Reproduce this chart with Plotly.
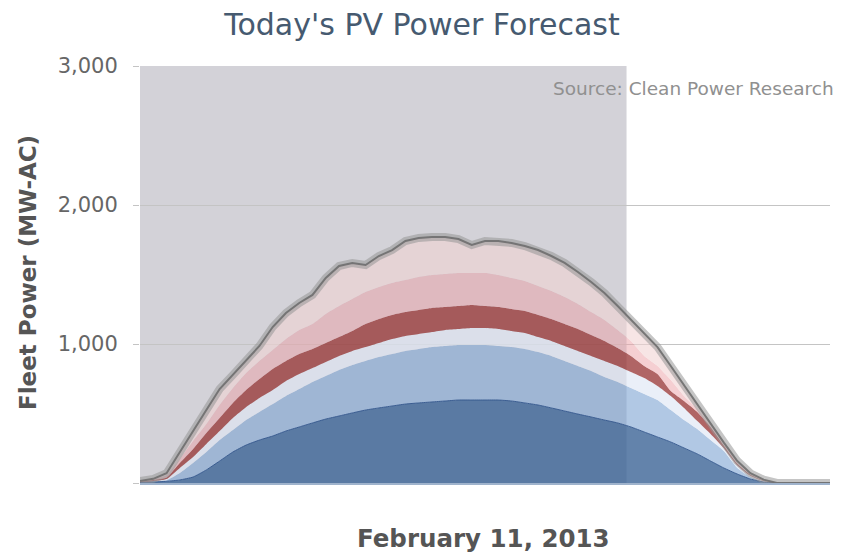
import plotly.graph_objects as go
import pandas as pd

# 15-minute time steps, 06:00 to 19:00
times = pd.date_range("2013-02-11 06:00", "2013-02-11 19:00", freq="15min")

# cumulative tops of each stacked band (MW-AC)
dark_blue = [5, 7, 12, 22, 43, 94, 158, 223, 273, 309,
             338, 374, 403, 432, 460, 482, 504, 525, 540, 554,
             568, 576, 583, 590, 597, 597, 597, 597, 590, 576,
             561, 540, 518, 496, 475, 453, 432, 403, 367, 331,
             295, 252, 209, 158, 108, 65, 29, 7, 0, 0,
             0, 0, 0]
medium_blue = [5, 14, 20, 72, 144, 223, 309, 381, 453, 511,
               568, 626, 676, 727, 770, 813, 849, 878, 906, 928,
               950, 964, 978, 986, 993, 993, 993, 986, 978, 964,
               942, 914, 878, 842, 806, 763, 727, 683, 640, 597,
               525, 453, 388, 309, 230, 110, 43, 12, 0, 0,
               0, 0, 0]
light_blue = [5, 14, 28, 108, 187, 281, 374, 468, 547, 612,
              669, 734, 784, 827, 871, 914, 950, 978, 1007, 1036,
              1058, 1072, 1086, 1101, 1108, 1115, 1115, 1108, 1094, 1079,
              1050, 1022, 986, 950, 914, 878, 842, 799, 755, 698,
              626, 540, 446, 353, 250, 128, 52, 14, 0, 0,
              0, 0, 0]
dark_red = [8, 22, 40, 144, 245, 360, 468, 576, 669, 748,
            820, 878, 928, 964, 1007, 1050, 1094, 1144, 1180, 1209,
            1230, 1245, 1259, 1266, 1273, 1281, 1273, 1266, 1252, 1237,
            1209, 1180, 1144, 1108, 1065, 1022, 971, 914, 842, 784,
            662, 590, 511, 403, 270, 140, 60, 18, 0, 0,
            0, 0, 0]
light_red = [10, 29, 55, 173, 302, 424, 561, 683, 791, 878,
             957, 1036, 1101, 1144, 1216, 1273, 1324, 1374, 1410, 1439,
             1460, 1482, 1496, 1504, 1511, 1511, 1511, 1496, 1475, 1453,
             1417, 1381, 1338, 1288, 1230, 1173, 1101, 1022, 914, 842,
             741, 626, 532, 410, 278, 150, 65, 22, 0, 0,
             0, 0, 0]
total = [14, 30, 70, 223, 381, 525, 676, 777, 878, 986,
         1122, 1223, 1295, 1353, 1475, 1561, 1583, 1568, 1633, 1676,
         1741, 1763, 1770, 1770, 1755, 1712, 1741, 1741, 1727, 1705,
         1676, 1633, 1583, 1518, 1446, 1367, 1273, 1173, 1079, 978,
         842, 705, 568, 424, 290, 160, 70, 24, 0, 0,
         0, 0, 0]

band_start = "2013-02-11 06:00"
band_end = "2013-02-11 15:10"

y_ticks = [0, 1000, 2000, 3000]
y_labels = ["", "1,000", "2,000", "3,000"]

FONT = "DejaVu Sans"

# page body adds an 8px offset; figure is sized so the plot lands where the reference has it
W, H = 842, 544

fig = go.Figure()

layers = [
    (dark_blue, "rgba(60,100,150,0.8)", "rgba(50,85,140,0.9)", 1),
    (medium_blue, "rgba(125,163,210,0.6)", "rgba(0,0,0,0)", 0),
    (light_blue, "rgba(222,230,244,0.65)", "rgba(0,0,0,0)", 0),
    (dark_red, "rgba(150,50,50,0.75)", "rgba(0,0,0,0)", 0),
    (light_red, "rgba(235,160,165,0.5)", "rgba(0,0,0,0)", 0),
    (total, "rgba(242,212,212,0.6)", "rgba(0,0,0,0)", 0),
]
for i, (vals, fc, lc, lw) in enumerate(layers):
    fig.add_trace(go.Scatter(
        x=times, y=vals, mode="lines",
        fill="tozeroy" if i == 0 else "tonexty",
        fillcolor=fc, line=dict(color=lc, width=lw, shape="spline", smoothing=0.5),
        showlegend=False, hoverinfo="skip",
    ))

# grey forecast band outline
fig.add_trace(go.Scatter(x=times, y=total, mode="lines",
                         line=dict(color="rgba(150,150,150,0.55)", width=8),
                         showlegend=False, hoverinfo="skip"))
fig.add_trace(go.Scatter(x=times, y=total, mode="lines",
                         line=dict(color="rgba(110,110,110,0.9)", width=2),
                         showlegend=False, hoverinfo="skip"))

fig.add_shape(type="rect", xref="x", yref="paper", x0=band_start, x1=band_end,
              y0=0, y1=1, fillcolor="rgb(211,210,216)", line_width=0, layer="below")

fig.update_layout(
    width=W, height=H,
    margin=dict(l=132, r=20, t=58, b=69),
    paper_bgcolor="white", plot_bgcolor="white",
    font=dict(family=FONT),
    title=dict(text="Today's PV Power Forecast", x=414 / W, xanchor="center",
               y=1 - 16 / H, yanchor="middle", xref="container", yref="container",
               font=dict(size=30, color="#465a70", family=FONT)),
    xaxis=dict(range=["2013-02-11 06:00", "2013-02-11 19:00"], showticklabels=False,
               showgrid=False, zeroline=False, showline=True, linecolor="#9fb3cc",
               linewidth=2, ticks=""),
    yaxis=dict(range=[0, 3000], tickvals=y_ticks, ticktext=y_labels,
               showgrid=True, gridcolor="#c4c4c4", gridwidth=1, zeroline=False,
               ticks="outside", ticklen=6, tickcolor="#c4c4c4",
               ticklabelstandoff=11,
               tickfont=dict(size=21, color="#666666", family=FONT)),
    annotations=[
        dict(text="<b>Fleet Power (MW-AC)</b>", xref="paper", yref="paper",
             x=(28 - 140) / 690, y=(483 - 273) / 417, textangle=-90,
             xanchor="center", yanchor="middle", showarrow=False,
             font=dict(size=23, color="#555555", family=FONT)),
        dict(text="<b>February 11, 2013</b>", xref="paper", yref="paper",
             x=(483 - 140) / 690, y=(483 - 538) / 417, xanchor="center", yanchor="middle",
             showarrow=False, font=dict(size=24.5, color="#555555", family=FONT)),
        dict(text="Source: Clean Power Research", xref="paper", yref="paper",
             x=(836 - 140) / 690, y=(483 - 88) / 417, xanchor="right", yanchor="middle",
             showarrow=False, font=dict(size=18.5, color="#909090", family=FONT)),
    ],
)

fig.write_html("out.html")
